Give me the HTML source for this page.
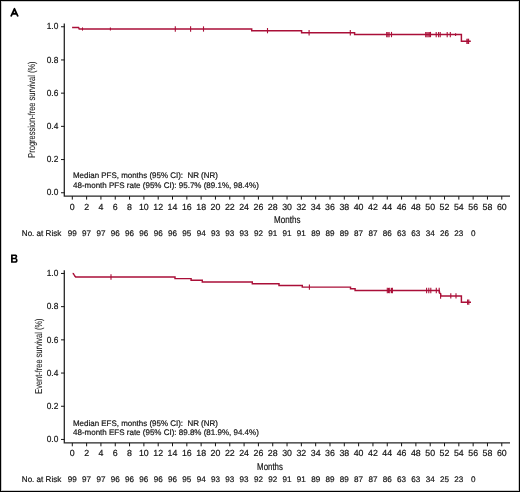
<!DOCTYPE html>
<html><head><meta charset="utf-8"><style>
html,body{margin:0;padding:0;background:#fff;}
body{width:520px;height:492px;overflow:hidden;}
.wrap{position:relative;width:520px;height:492px;box-sizing:border-box;border:1px solid #000;background:#fff;}
svg{position:absolute;left:-1px;top:-1px;will-change:transform;}
text{font-family:"Liberation Sans", sans-serif;stroke:#141414;stroke-width:0.2px;text-rendering:geometricPrecision;}
</style></head><body><div class="wrap">
<svg width="520" height="492" viewBox="0 0 520 492">
<rect x="1.5" y="1.5" width="517" height="489" fill="none" stroke="#000" stroke-opacity="0.2" stroke-width="1"/>
<path d="M10.95 16.5 L14.45 8.8 L17.95 16.5 M12.4 13.75 H16.5" stroke="#000" stroke-width="1.8" fill="none" stroke-linejoin="round" stroke-linecap="butt"/>
<path d="M64.3 23.5V196.15H510" fill="none" stroke="#262626" stroke-width="1.3"/>
<path d="M61 26.75H64.5" stroke="#141414" stroke-width="1"/>
<text x="58.3" y="29.45" font-size="8.8" text-anchor="end" textLength="11.6" lengthAdjust="spacingAndGlyphs" fill="#141414">1.0</text>
<path d="M61 59.95H64.5" stroke="#141414" stroke-width="1"/>
<text x="58.3" y="62.65" font-size="8.8" text-anchor="end" textLength="11.6" lengthAdjust="spacingAndGlyphs" fill="#141414">0.8</text>
<path d="M61 93.15H64.5" stroke="#141414" stroke-width="1"/>
<text x="58.3" y="95.85" font-size="8.8" text-anchor="end" textLength="11.6" lengthAdjust="spacingAndGlyphs" fill="#141414">0.6</text>
<path d="M61 126.35H64.5" stroke="#141414" stroke-width="1"/>
<text x="58.3" y="129.05" font-size="8.8" text-anchor="end" textLength="11.6" lengthAdjust="spacingAndGlyphs" fill="#141414">0.4</text>
<path d="M61 159.55H64.5" stroke="#141414" stroke-width="1"/>
<text x="58.3" y="162.25" font-size="8.8" text-anchor="end" textLength="11.6" lengthAdjust="spacingAndGlyphs" fill="#141414">0.2</text>
<path d="M61 192.75H64.5" stroke="#141414" stroke-width="1"/>
<text x="58.3" y="195.45" font-size="8.8" text-anchor="end" textLength="11.6" lengthAdjust="spacingAndGlyphs" fill="#141414">0.0</text>
<path d="M72.30 196.2V199.6" stroke="#141414" stroke-width="1"/>
<text x="72.30" y="209.70" font-size="8.8" text-anchor="middle" fill="#141414">0</text>
<path d="M86.62 196.2V199.6" stroke="#141414" stroke-width="1"/>
<text x="86.62" y="209.70" font-size="8.8" text-anchor="middle" fill="#141414">2</text>
<path d="M100.93 196.2V199.6" stroke="#141414" stroke-width="1"/>
<text x="100.93" y="209.70" font-size="8.8" text-anchor="middle" fill="#141414">4</text>
<path d="M115.25 196.2V199.6" stroke="#141414" stroke-width="1"/>
<text x="115.25" y="209.70" font-size="8.8" text-anchor="middle" fill="#141414">6</text>
<path d="M129.56 196.2V199.6" stroke="#141414" stroke-width="1"/>
<text x="129.56" y="209.70" font-size="8.8" text-anchor="middle" fill="#141414">8</text>
<path d="M143.88 196.2V199.6" stroke="#141414" stroke-width="1"/>
<text x="143.88" y="209.70" font-size="8.8" text-anchor="middle" fill="#141414">10</text>
<path d="M158.20 196.2V199.6" stroke="#141414" stroke-width="1"/>
<text x="158.20" y="209.70" font-size="8.8" text-anchor="middle" fill="#141414">12</text>
<path d="M172.51 196.2V199.6" stroke="#141414" stroke-width="1"/>
<text x="172.51" y="209.70" font-size="8.8" text-anchor="middle" fill="#141414">14</text>
<path d="M186.83 196.2V199.6" stroke="#141414" stroke-width="1"/>
<text x="186.83" y="209.70" font-size="8.8" text-anchor="middle" fill="#141414">16</text>
<path d="M201.14 196.2V199.6" stroke="#141414" stroke-width="1"/>
<text x="201.14" y="209.70" font-size="8.8" text-anchor="middle" fill="#141414">18</text>
<path d="M215.46 196.2V199.6" stroke="#141414" stroke-width="1"/>
<text x="215.46" y="209.70" font-size="8.8" text-anchor="middle" fill="#141414">20</text>
<path d="M229.78 196.2V199.6" stroke="#141414" stroke-width="1"/>
<text x="229.78" y="209.70" font-size="8.8" text-anchor="middle" fill="#141414">22</text>
<path d="M244.09 196.2V199.6" stroke="#141414" stroke-width="1"/>
<text x="244.09" y="209.70" font-size="8.8" text-anchor="middle" fill="#141414">24</text>
<path d="M258.41 196.2V199.6" stroke="#141414" stroke-width="1"/>
<text x="258.41" y="209.70" font-size="8.8" text-anchor="middle" fill="#141414">26</text>
<path d="M272.72 196.2V199.6" stroke="#141414" stroke-width="1"/>
<text x="272.72" y="209.70" font-size="8.8" text-anchor="middle" fill="#141414">28</text>
<path d="M287.04 196.2V199.6" stroke="#141414" stroke-width="1"/>
<text x="287.04" y="209.70" font-size="8.8" text-anchor="middle" fill="#141414">30</text>
<path d="M301.36 196.2V199.6" stroke="#141414" stroke-width="1"/>
<text x="301.36" y="209.70" font-size="8.8" text-anchor="middle" fill="#141414">32</text>
<path d="M315.67 196.2V199.6" stroke="#141414" stroke-width="1"/>
<text x="315.67" y="209.70" font-size="8.8" text-anchor="middle" fill="#141414">34</text>
<path d="M329.99 196.2V199.6" stroke="#141414" stroke-width="1"/>
<text x="329.99" y="209.70" font-size="8.8" text-anchor="middle" fill="#141414">36</text>
<path d="M344.30 196.2V199.6" stroke="#141414" stroke-width="1"/>
<text x="344.30" y="209.70" font-size="8.8" text-anchor="middle" fill="#141414">38</text>
<path d="M358.62 196.2V199.6" stroke="#141414" stroke-width="1"/>
<text x="358.62" y="209.70" font-size="8.8" text-anchor="middle" fill="#141414">40</text>
<path d="M372.94 196.2V199.6" stroke="#141414" stroke-width="1"/>
<text x="372.94" y="209.70" font-size="8.8" text-anchor="middle" fill="#141414">42</text>
<path d="M387.25 196.2V199.6" stroke="#141414" stroke-width="1"/>
<text x="387.25" y="209.70" font-size="8.8" text-anchor="middle" fill="#141414">44</text>
<path d="M401.57 196.2V199.6" stroke="#141414" stroke-width="1"/>
<text x="401.57" y="209.70" font-size="8.8" text-anchor="middle" fill="#141414">46</text>
<path d="M415.88 196.2V199.6" stroke="#141414" stroke-width="1"/>
<text x="415.88" y="209.70" font-size="8.8" text-anchor="middle" fill="#141414">48</text>
<path d="M430.20 196.2V199.6" stroke="#141414" stroke-width="1"/>
<text x="430.20" y="209.70" font-size="8.8" text-anchor="middle" fill="#141414">50</text>
<path d="M444.52 196.2V199.6" stroke="#141414" stroke-width="1"/>
<text x="444.52" y="209.70" font-size="8.8" text-anchor="middle" fill="#141414">52</text>
<path d="M458.83 196.2V199.6" stroke="#141414" stroke-width="1"/>
<text x="458.83" y="209.70" font-size="8.8" text-anchor="middle" fill="#141414">54</text>
<path d="M473.15 196.2V199.6" stroke="#141414" stroke-width="1"/>
<text x="473.15" y="209.70" font-size="8.8" text-anchor="middle" fill="#141414">56</text>
<path d="M487.46 196.2V199.6" stroke="#141414" stroke-width="1"/>
<text x="487.46" y="209.70" font-size="8.8" text-anchor="middle" fill="#141414">58</text>
<path d="M501.78 196.2V199.6" stroke="#141414" stroke-width="1"/>
<text x="501.78" y="209.70" font-size="8.8" text-anchor="middle" fill="#141414">60</text>
<text transform="translate(35.1 157.7) rotate(-90)" x="0" y="0" font-size="10" textLength="96.3" lengthAdjust="spacingAndGlyphs" fill="#141414" style="stroke-width:0.05px">Progression-free survival (%)</text>
<text x="274.1" y="222.7" font-size="9.9" textLength="26.3" lengthAdjust="spacingAndGlyphs" fill="#141414">Months</text>
<text x="21.8" y="235.50" font-size="8.2" textLength="39.5" lengthAdjust="spacingAndGlyphs" fill="#141414">No. at Risk</text>
<text x="72.30" y="235.50" font-size="8.1" text-anchor="middle" fill="#141414">99</text>
<text x="86.62" y="235.50" font-size="8.1" text-anchor="middle" fill="#141414">97</text>
<text x="100.93" y="235.50" font-size="8.1" text-anchor="middle" fill="#141414">97</text>
<text x="115.25" y="235.50" font-size="8.1" text-anchor="middle" fill="#141414">96</text>
<text x="129.56" y="235.50" font-size="8.1" text-anchor="middle" fill="#141414">96</text>
<text x="143.88" y="235.50" font-size="8.1" text-anchor="middle" fill="#141414">96</text>
<text x="158.20" y="235.50" font-size="8.1" text-anchor="middle" fill="#141414">96</text>
<text x="172.51" y="235.50" font-size="8.1" text-anchor="middle" fill="#141414">96</text>
<text x="186.83" y="235.50" font-size="8.1" text-anchor="middle" fill="#141414">95</text>
<text x="201.14" y="235.50" font-size="8.1" text-anchor="middle" fill="#141414">94</text>
<text x="215.46" y="235.50" font-size="8.1" text-anchor="middle" fill="#141414">93</text>
<text x="229.78" y="235.50" font-size="8.1" text-anchor="middle" fill="#141414">93</text>
<text x="244.09" y="235.50" font-size="8.1" text-anchor="middle" fill="#141414">93</text>
<text x="258.41" y="235.50" font-size="8.1" text-anchor="middle" fill="#141414">92</text>
<text x="272.72" y="235.50" font-size="8.1" text-anchor="middle" fill="#141414">91</text>
<text x="287.04" y="235.50" font-size="8.1" text-anchor="middle" fill="#141414">91</text>
<text x="301.36" y="235.50" font-size="8.1" text-anchor="middle" fill="#141414">91</text>
<text x="315.67" y="235.50" font-size="8.1" text-anchor="middle" fill="#141414">89</text>
<text x="329.99" y="235.50" font-size="8.1" text-anchor="middle" fill="#141414">89</text>
<text x="344.30" y="235.50" font-size="8.1" text-anchor="middle" fill="#141414">89</text>
<text x="358.62" y="235.50" font-size="8.1" text-anchor="middle" fill="#141414">87</text>
<text x="372.94" y="235.50" font-size="8.1" text-anchor="middle" fill="#141414">87</text>
<text x="387.25" y="235.50" font-size="8.1" text-anchor="middle" fill="#141414">86</text>
<text x="401.57" y="235.50" font-size="8.1" text-anchor="middle" fill="#141414">63</text>
<text x="415.88" y="235.50" font-size="8.1" text-anchor="middle" fill="#141414">63</text>
<text x="430.20" y="235.50" font-size="8.1" text-anchor="middle" fill="#141414">34</text>
<text x="444.52" y="235.50" font-size="8.1" text-anchor="middle" fill="#141414">26</text>
<text x="458.83" y="235.50" font-size="8.1" text-anchor="middle" fill="#141414">23</text>
<text x="473.15" y="235.50" font-size="8.1" text-anchor="middle" fill="#141414">0</text>
<text x="73" y="178.10" font-size="8.1" textLength="144.9" lengthAdjust="spacingAndGlyphs" fill="#141414">Median PFS, months (95% CI):&#160; NR (NR)</text>
<text x="73" y="187.70" font-size="8.1" textLength="185.8" lengthAdjust="spacingAndGlyphs" fill="#141414">48-month PFS rate (95% CI): 95.7% (89.1%, 98.4%)</text>
<path d="M72.10 27.45 L78.60 27.45 L79.20 29.00 L251.70 29.00 L251.70 30.65 L301.60 30.65 L301.60 32.75 L354.60 32.75 L354.60 34.55 L461.40 34.55 L461.40 41.30 L470.80 41.30" fill="none" stroke="#aa0f38" stroke-width="1.45" stroke-linejoin="miter"/>
<path d="M82.50 27.40V30.60" stroke="#aa0f38" stroke-width="1.1"/>
<path d="M110.40 27.40V30.60" stroke="#aa0f38" stroke-width="1.1"/>
<path d="M175.30 26.35V31.65" stroke="#aa0f38" stroke-width="1.1"/>
<path d="M190.60 26.35V31.65" stroke="#aa0f38" stroke-width="1.1"/>
<path d="M203.50 26.35V31.65" stroke="#aa0f38" stroke-width="1.1"/>
<path d="M267.50 28.00V33.30" stroke="#aa0f38" stroke-width="1.1"/>
<path d="M309.10 30.10V35.40" stroke="#aa0f38" stroke-width="1.1"/>
<path d="M350.30 30.10V35.40" stroke="#aa0f38" stroke-width="1.1"/>
<path d="M386.70 31.90V37.20" stroke="#aa0f38" stroke-width="1.1"/>
<path d="M387.90 31.90V37.20" stroke="#aa0f38" stroke-width="1.1"/>
<path d="M389.10 31.90V37.20" stroke="#aa0f38" stroke-width="1.1"/>
<path d="M391.50 31.90V37.20" stroke="#aa0f38" stroke-width="1.1"/>
<path d="M425.70 31.90V37.20" stroke="#aa0f38" stroke-width="1.1"/>
<path d="M426.90 31.90V37.20" stroke="#aa0f38" stroke-width="1.1"/>
<path d="M428.10 31.90V37.20" stroke="#aa0f38" stroke-width="1.1"/>
<path d="M429.30 31.90V37.20" stroke="#aa0f38" stroke-width="1.1"/>
<path d="M430.50 31.90V37.20" stroke="#aa0f38" stroke-width="1.1"/>
<path d="M436.20 31.90V37.20" stroke="#aa0f38" stroke-width="1.1"/>
<path d="M438.60 31.90V37.20" stroke="#aa0f38" stroke-width="1.1"/>
<path d="M440.20 31.90V37.20" stroke="#aa0f38" stroke-width="1.1"/>
<path d="M447.20 31.90V37.20" stroke="#aa0f38" stroke-width="1.1"/>
<path d="M450.30 31.90V37.20" stroke="#aa0f38" stroke-width="1.1"/>
<path d="M455.60 33.15V35.95" stroke="#aa0f38" stroke-width="1.1"/>
<path d="M466.90 38.65V43.95" stroke="#aa0f38" stroke-width="1.1"/>
<path d="M467.90 38.65V43.95" stroke="#aa0f38" stroke-width="1.1"/>
<path d="M468.60 38.65V43.95" stroke="#aa0f38" stroke-width="1.1"/>
<path fill-rule="evenodd" fill="#000" d="M11.05 254.5 H15.1 C16.6 254.5 17.25 255.4 17.25 256.35 C17.25 257.3 16.8 257.9 16.15 258.25 C17.1 258.6 17.6 259.4 17.6 260.5 C17.6 261.9 16.6 262.85 15.1 262.85 H11.05 Z M12.75 256.0 H14.85 C15.35 256.0 15.6 256.4 15.6 256.85 C15.6 257.3 15.3 257.65 14.85 257.65 H12.75 Z M12.75 259.35 H15.1 C15.65 259.35 15.95 259.8 15.95 260.35 C15.95 260.95 15.6 261.3 15.1 261.3 H12.75 Z"/>
<path d="M64.3 270.2V442.85H510" fill="none" stroke="#262626" stroke-width="1.3"/>
<path d="M61 273.45H64.5" stroke="#141414" stroke-width="1"/>
<text x="58.3" y="276.15" font-size="8.8" text-anchor="end" textLength="11.6" lengthAdjust="spacingAndGlyphs" fill="#141414">1.0</text>
<path d="M61 306.65H64.5" stroke="#141414" stroke-width="1"/>
<text x="58.3" y="309.35" font-size="8.8" text-anchor="end" textLength="11.6" lengthAdjust="spacingAndGlyphs" fill="#141414">0.8</text>
<path d="M61 339.85H64.5" stroke="#141414" stroke-width="1"/>
<text x="58.3" y="342.55" font-size="8.8" text-anchor="end" textLength="11.6" lengthAdjust="spacingAndGlyphs" fill="#141414">0.6</text>
<path d="M61 373.05H64.5" stroke="#141414" stroke-width="1"/>
<text x="58.3" y="375.75" font-size="8.8" text-anchor="end" textLength="11.6" lengthAdjust="spacingAndGlyphs" fill="#141414">0.4</text>
<path d="M61 406.25H64.5" stroke="#141414" stroke-width="1"/>
<text x="58.3" y="408.95" font-size="8.8" text-anchor="end" textLength="11.6" lengthAdjust="spacingAndGlyphs" fill="#141414">0.2</text>
<path d="M61 439.45H64.5" stroke="#141414" stroke-width="1"/>
<text x="58.3" y="442.15" font-size="8.8" text-anchor="end" textLength="11.6" lengthAdjust="spacingAndGlyphs" fill="#141414">0.0</text>
<path d="M72.30 442.9V446.29999999999995" stroke="#141414" stroke-width="1"/>
<text x="72.30" y="456.40" font-size="8.8" text-anchor="middle" fill="#141414">0</text>
<path d="M86.62 442.9V446.29999999999995" stroke="#141414" stroke-width="1"/>
<text x="86.62" y="456.40" font-size="8.8" text-anchor="middle" fill="#141414">2</text>
<path d="M100.93 442.9V446.29999999999995" stroke="#141414" stroke-width="1"/>
<text x="100.93" y="456.40" font-size="8.8" text-anchor="middle" fill="#141414">4</text>
<path d="M115.25 442.9V446.29999999999995" stroke="#141414" stroke-width="1"/>
<text x="115.25" y="456.40" font-size="8.8" text-anchor="middle" fill="#141414">6</text>
<path d="M129.56 442.9V446.29999999999995" stroke="#141414" stroke-width="1"/>
<text x="129.56" y="456.40" font-size="8.8" text-anchor="middle" fill="#141414">8</text>
<path d="M143.88 442.9V446.29999999999995" stroke="#141414" stroke-width="1"/>
<text x="143.88" y="456.40" font-size="8.8" text-anchor="middle" fill="#141414">10</text>
<path d="M158.20 442.9V446.29999999999995" stroke="#141414" stroke-width="1"/>
<text x="158.20" y="456.40" font-size="8.8" text-anchor="middle" fill="#141414">12</text>
<path d="M172.51 442.9V446.29999999999995" stroke="#141414" stroke-width="1"/>
<text x="172.51" y="456.40" font-size="8.8" text-anchor="middle" fill="#141414">14</text>
<path d="M186.83 442.9V446.29999999999995" stroke="#141414" stroke-width="1"/>
<text x="186.83" y="456.40" font-size="8.8" text-anchor="middle" fill="#141414">16</text>
<path d="M201.14 442.9V446.29999999999995" stroke="#141414" stroke-width="1"/>
<text x="201.14" y="456.40" font-size="8.8" text-anchor="middle" fill="#141414">18</text>
<path d="M215.46 442.9V446.29999999999995" stroke="#141414" stroke-width="1"/>
<text x="215.46" y="456.40" font-size="8.8" text-anchor="middle" fill="#141414">20</text>
<path d="M229.78 442.9V446.29999999999995" stroke="#141414" stroke-width="1"/>
<text x="229.78" y="456.40" font-size="8.8" text-anchor="middle" fill="#141414">22</text>
<path d="M244.09 442.9V446.29999999999995" stroke="#141414" stroke-width="1"/>
<text x="244.09" y="456.40" font-size="8.8" text-anchor="middle" fill="#141414">24</text>
<path d="M258.41 442.9V446.29999999999995" stroke="#141414" stroke-width="1"/>
<text x="258.41" y="456.40" font-size="8.8" text-anchor="middle" fill="#141414">26</text>
<path d="M272.72 442.9V446.29999999999995" stroke="#141414" stroke-width="1"/>
<text x="272.72" y="456.40" font-size="8.8" text-anchor="middle" fill="#141414">28</text>
<path d="M287.04 442.9V446.29999999999995" stroke="#141414" stroke-width="1"/>
<text x="287.04" y="456.40" font-size="8.8" text-anchor="middle" fill="#141414">30</text>
<path d="M301.36 442.9V446.29999999999995" stroke="#141414" stroke-width="1"/>
<text x="301.36" y="456.40" font-size="8.8" text-anchor="middle" fill="#141414">32</text>
<path d="M315.67 442.9V446.29999999999995" stroke="#141414" stroke-width="1"/>
<text x="315.67" y="456.40" font-size="8.8" text-anchor="middle" fill="#141414">34</text>
<path d="M329.99 442.9V446.29999999999995" stroke="#141414" stroke-width="1"/>
<text x="329.99" y="456.40" font-size="8.8" text-anchor="middle" fill="#141414">36</text>
<path d="M344.30 442.9V446.29999999999995" stroke="#141414" stroke-width="1"/>
<text x="344.30" y="456.40" font-size="8.8" text-anchor="middle" fill="#141414">38</text>
<path d="M358.62 442.9V446.29999999999995" stroke="#141414" stroke-width="1"/>
<text x="358.62" y="456.40" font-size="8.8" text-anchor="middle" fill="#141414">40</text>
<path d="M372.94 442.9V446.29999999999995" stroke="#141414" stroke-width="1"/>
<text x="372.94" y="456.40" font-size="8.8" text-anchor="middle" fill="#141414">42</text>
<path d="M387.25 442.9V446.29999999999995" stroke="#141414" stroke-width="1"/>
<text x="387.25" y="456.40" font-size="8.8" text-anchor="middle" fill="#141414">44</text>
<path d="M401.57 442.9V446.29999999999995" stroke="#141414" stroke-width="1"/>
<text x="401.57" y="456.40" font-size="8.8" text-anchor="middle" fill="#141414">46</text>
<path d="M415.88 442.9V446.29999999999995" stroke="#141414" stroke-width="1"/>
<text x="415.88" y="456.40" font-size="8.8" text-anchor="middle" fill="#141414">48</text>
<path d="M430.20 442.9V446.29999999999995" stroke="#141414" stroke-width="1"/>
<text x="430.20" y="456.40" font-size="8.8" text-anchor="middle" fill="#141414">50</text>
<path d="M444.52 442.9V446.29999999999995" stroke="#141414" stroke-width="1"/>
<text x="444.52" y="456.40" font-size="8.8" text-anchor="middle" fill="#141414">52</text>
<path d="M458.83 442.9V446.29999999999995" stroke="#141414" stroke-width="1"/>
<text x="458.83" y="456.40" font-size="8.8" text-anchor="middle" fill="#141414">54</text>
<path d="M473.15 442.9V446.29999999999995" stroke="#141414" stroke-width="1"/>
<text x="473.15" y="456.40" font-size="8.8" text-anchor="middle" fill="#141414">56</text>
<path d="M487.46 442.9V446.29999999999995" stroke="#141414" stroke-width="1"/>
<text x="487.46" y="456.40" font-size="8.8" text-anchor="middle" fill="#141414">58</text>
<path d="M501.78 442.9V446.29999999999995" stroke="#141414" stroke-width="1"/>
<text x="501.78" y="456.40" font-size="8.8" text-anchor="middle" fill="#141414">60</text>
<text transform="translate(42.1 393.8) rotate(-90)" x="0" y="0" font-size="10" textLength="75.3" lengthAdjust="spacingAndGlyphs" fill="#141414" style="stroke-width:0.05px">Event-free survival (%)</text>
<text x="257.1" y="469.6" font-size="9.9" textLength="25.8" lengthAdjust="spacingAndGlyphs" fill="#141414">Months</text>
<text x="21.8" y="482.20" font-size="8.2" textLength="39.5" lengthAdjust="spacingAndGlyphs" fill="#141414">No. at Risk</text>
<text x="72.30" y="482.20" font-size="8.1" text-anchor="middle" fill="#141414">99</text>
<text x="86.62" y="482.20" font-size="8.1" text-anchor="middle" fill="#141414">97</text>
<text x="100.93" y="482.20" font-size="8.1" text-anchor="middle" fill="#141414">97</text>
<text x="115.25" y="482.20" font-size="8.1" text-anchor="middle" fill="#141414">96</text>
<text x="129.56" y="482.20" font-size="8.1" text-anchor="middle" fill="#141414">96</text>
<text x="143.88" y="482.20" font-size="8.1" text-anchor="middle" fill="#141414">96</text>
<text x="158.20" y="482.20" font-size="8.1" text-anchor="middle" fill="#141414">96</text>
<text x="172.51" y="482.20" font-size="8.1" text-anchor="middle" fill="#141414">96</text>
<text x="186.83" y="482.20" font-size="8.1" text-anchor="middle" fill="#141414">95</text>
<text x="201.14" y="482.20" font-size="8.1" text-anchor="middle" fill="#141414">94</text>
<text x="215.46" y="482.20" font-size="8.1" text-anchor="middle" fill="#141414">93</text>
<text x="229.78" y="482.20" font-size="8.1" text-anchor="middle" fill="#141414">93</text>
<text x="244.09" y="482.20" font-size="8.1" text-anchor="middle" fill="#141414">93</text>
<text x="258.41" y="482.20" font-size="8.1" text-anchor="middle" fill="#141414">92</text>
<text x="272.72" y="482.20" font-size="8.1" text-anchor="middle" fill="#141414">92</text>
<text x="287.04" y="482.20" font-size="8.1" text-anchor="middle" fill="#141414">91</text>
<text x="301.36" y="482.20" font-size="8.1" text-anchor="middle" fill="#141414">91</text>
<text x="315.67" y="482.20" font-size="8.1" text-anchor="middle" fill="#141414">89</text>
<text x="329.99" y="482.20" font-size="8.1" text-anchor="middle" fill="#141414">89</text>
<text x="344.30" y="482.20" font-size="8.1" text-anchor="middle" fill="#141414">89</text>
<text x="358.62" y="482.20" font-size="8.1" text-anchor="middle" fill="#141414">87</text>
<text x="372.94" y="482.20" font-size="8.1" text-anchor="middle" fill="#141414">87</text>
<text x="387.25" y="482.20" font-size="8.1" text-anchor="middle" fill="#141414">86</text>
<text x="401.57" y="482.20" font-size="8.1" text-anchor="middle" fill="#141414">63</text>
<text x="415.88" y="482.20" font-size="8.1" text-anchor="middle" fill="#141414">63</text>
<text x="430.20" y="482.20" font-size="8.1" text-anchor="middle" fill="#141414">34</text>
<text x="444.52" y="482.20" font-size="8.1" text-anchor="middle" fill="#141414">25</text>
<text x="458.83" y="482.20" font-size="8.1" text-anchor="middle" fill="#141414">23</text>
<text x="473.15" y="482.20" font-size="8.1" text-anchor="middle" fill="#141414">0</text>
<text x="73" y="425.80" font-size="8.1" textLength="144.9" lengthAdjust="spacingAndGlyphs" fill="#141414">Median EFS, months (95% CI):&#160; NR (NR)</text>
<text x="73" y="435.40" font-size="8.1" textLength="185.8" lengthAdjust="spacingAndGlyphs" fill="#141414">48-month EFS rate (95% CI): 89.8% (81.9%, 94.4%)</text>
<path d="M72.60 273.50 L73.40 273.60 L74.20 275.00 L74.80 276.00 L75.70 277.00 L175.00 277.00 L175.00 278.60 L191.10 278.60 L191.10 280.30 L202.30 280.30 L202.30 282.00 L252.30 282.00 L252.30 283.70 L279.00 283.70 L279.00 285.50 L302.30 285.50 L302.30 287.10 L350.50 287.10 L350.50 288.70 L355.10 288.70 L355.10 290.50 L439.30 290.50 L439.60 293.00 L440.60 293.70 L440.80 295.90 L461.40 295.90 L461.40 302.20 L471.00 302.20" fill="none" stroke="#aa0f38" stroke-width="1.45" stroke-linejoin="miter"/>
<path d="M111.00 274.35V279.65" stroke="#aa0f38" stroke-width="1.1"/>
<path d="M309.40 284.45V289.75" stroke="#aa0f38" stroke-width="1.1"/>
<path d="M387.30 287.85V293.15" stroke="#aa0f38" stroke-width="1.1"/>
<path d="M388.50 287.85V293.15" stroke="#aa0f38" stroke-width="1.1"/>
<path d="M389.70 287.85V293.15" stroke="#aa0f38" stroke-width="1.1"/>
<path d="M391.50 287.85V293.15" stroke="#aa0f38" stroke-width="1.1"/>
<path d="M392.40 287.85V293.15" stroke="#aa0f38" stroke-width="1.1"/>
<path d="M426.60 287.85V293.15" stroke="#aa0f38" stroke-width="1.1"/>
<path d="M428.80 287.85V293.15" stroke="#aa0f38" stroke-width="1.1"/>
<path d="M430.80 287.85V293.15" stroke="#aa0f38" stroke-width="1.1"/>
<path d="M436.30 287.85V293.15" stroke="#aa0f38" stroke-width="1.1"/>
<path d="M439.20 287.85V293.15" stroke="#aa0f38" stroke-width="1.1"/>
<path d="M440.60 293.45V298.75" stroke="#aa0f38" stroke-width="1.1"/>
<path d="M450.80 293.25V298.55" stroke="#aa0f38" stroke-width="1.1"/>
<path d="M456.00 293.25V298.55" stroke="#aa0f38" stroke-width="1.1"/>
<path d="M467.60 299.55V304.85" stroke="#aa0f38" stroke-width="1.1"/>
<path d="M468.80 299.55V304.85" stroke="#aa0f38" stroke-width="1.1"/>
</svg></div></body></html>
